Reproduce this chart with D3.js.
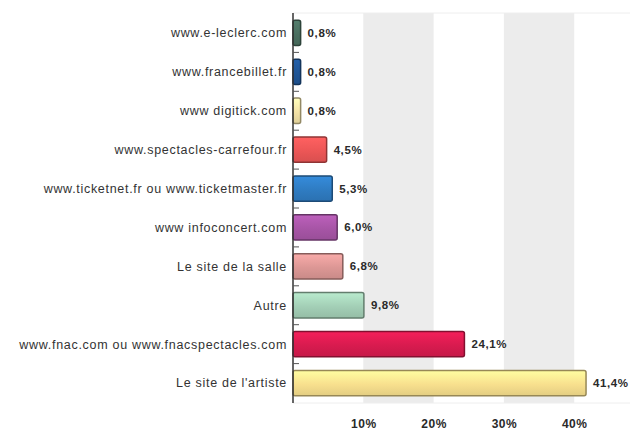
<!DOCTYPE html>
<html>
<head>
<meta charset="utf-8">
<script src="https://cdn.jsdelivr.net/npm/d3@7"></script>
<style>
  body { margin: 0; background: #fff; }
  text { font-family: "Liberation Sans", Arial, sans-serif; }
</style>
</head>
<body>
<div id="chart"></div>
<script>
// data, top to bottom
let sites = ["www.e-leclerc.com", "www.francebillet.fr", "www digitick.com",
             "www.spectacles-carrefour.fr", "www.ticketnet.fr ou www.ticketmaster.fr",
             "www infoconcert.com", "Le site de la salle", "Autre",
             "www.fnac.com ou www.fnacspectacles.com", "Le site de l'artiste"]
let shares = [0.8, 0.8, 0.8, 4.5, 5.3, 6.0, 6.8, 9.8, 24.1, 41.4]
let barColors = ["#4a6f60", "#1f5596", "#f3e2a6", "#ec5656", "#2f7cc2",
                 "#a755a6", "#dc9795", "#a3cfb6", "#d81b4f", "#f8e08e"]
let tickValues = [10, 20, 30, 40]
let bandPairs = [[10, 20], [30, 40]]

let width = 641, height = 433

let svg = d3.select("#chart").append("svg")
            .attr("width", width)
            .attr("height", height)

let x = d3.scaleLinear()
          .domain([0, 45])
          .range([293, 293 + 45 * 7.03])

let y = d3.scaleBand()
          .domain(sites)
          .range([13.5, 402.5])
          .paddingInner(0.35)
          .paddingOuter(0.175)

// gradients for the bars
let defs = svg.append("defs")
barColors.forEach(function(c, i) {
  let g = defs.append("linearGradient")
              .attr("id", "grad" + i)
              .attr("x1", 0).attr("y1", 0).attr("x2", 0).attr("y2", 1)
  g.append("stop").attr("offset", "0%").attr("stop-color", d3.color(c).brighter(0.35))
  g.append("stop").attr("offset", "55%").attr("stop-color", c)
  g.append("stop").attr("offset", "100%").attr("stop-color", d3.color(c).darker(0.25))
})

// grey background bands
svg.selectAll("rect.band")
   .data(bandPairs)
   .enter()
   .append("rect")
   .attr("class", "band")
   .attr("x", d => x(d[0]))
   .attr("width", d => x(d[1]) - x(d[0]))
   .attr("y", 13)
   .attr("height", 390)
   .style("fill", "#ececec")

// faint frame lines top and bottom
svg.selectAll("line.frame")
   .data([13, 403])
   .enter()
   .append("line")
   .attr("class", "frame")
   .attr("x1", x(0)).attr("x2", 630)
   .attr("y1", d => d).attr("y2", d => d)
   .style("stroke", "#eeeeee")

// bars
svg.selectAll("rect.bar")
   .data(shares)
   .enter()
   .append("rect")
   .attr("class", "bar")
   .attr("x", x(0))
   .attr("y", (d, i) => y(sites[i]))
   .attr("width", d => x(d) - x(0) + 2)
   .attr("height", y.bandwidth())
   .attr("rx", 2)
   .style("fill", (d, i) => "url(#grad" + i + ")")
   .style("stroke", (d, i) => d3.color(barColors[i]).darker(1.4))
   .style("stroke-width", 1.5)

// value labels
svg.selectAll("text.value")
   .data(shares)
   .enter()
   .append("text")
   .attr("class", "value")
   .attr("x", d => x(d) + 9)
   .attr("y", (d, i) => y(sites[i]) + y.bandwidth() / 2)
   .attr("dy", "0.35em")
   .style("font-size", "11.5px")
   .style("font-weight", "bold")
   .style("letter-spacing", "0.6px")
   .style("fill", "#2a2a2a")
   .text(d => d3.format(".1f")(d).replace(".", ",") + "%")

// category labels
svg.selectAll("text.cat")
   .data(sites)
   .enter()
   .append("text")
   .attr("class", "cat")
   .attr("x", 287)
   .attr("y", d => y(d) + y.bandwidth() / 2)
   .attr("dy", "0.35em")
   .attr("text-anchor", "end")
   .style("font-size", "12.5px")
   .style("letter-spacing", "0.7px")
   .style("fill", "#333")
   .text(d => d)

// vertical axis line with small ticks between the rows
svg.append("line")
   .attr("x1", x(0)).attr("x2", x(0))
   .attr("y1", 13).attr("y2", 403)
   .style("stroke", "#333")
   .style("stroke-width", 1.5)

let boundaries = sites.slice(1).map(s => y(s) - y.step() * y.paddingInner() / 2)
svg.selectAll("line.rowtick")
   .data(boundaries)
   .enter()
   .append("line")
   .attr("class", "rowtick")
   .attr("x1", x(0)).attr("x2", x(0) + 6)
   .attr("y1", d => d).attr("y2", d => d)
   .style("stroke", "#555")

// x axis labels
let xAxis = d3.axisBottom(x)
              .tickValues(tickValues)
              .tickSize(0)
              .tickFormat(d => d + "%")

let gx = svg.append("g")
            .attr("transform", "translate(0,416)")
            .call(xAxis)
gx.select(".domain").remove()
gx.selectAll("text")
  .style("font-size", "12px")
  .style("font-weight", "bold")
  .style("letter-spacing", "0.5px")
  .style("fill", "#2a2a2a")
  .style("font-family", "'Liberation Sans', Arial, sans-serif")
</script>
</body>
</html>
